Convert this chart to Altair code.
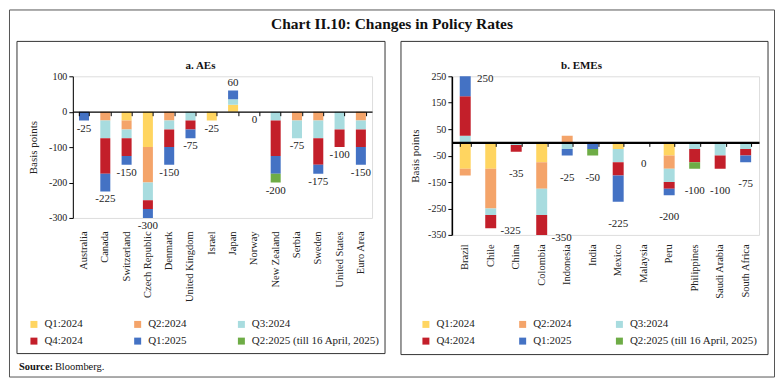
import altair as alt
import pandas as pd

FONT = "Liberation Serif"

# ---------------- data ----------------
quarters = ["Q1:2024", "Q2:2024", "Q3:2024", "Q4:2024", "Q1:2025",
            "Q2:2025 (till 16 April, 2025)"]
quarter_colors = ["#FFD560", "#F4A46A", "#A8DCDF", "#C31F2A", "#4472C4", "#6EAC46"]

ae_countries = ["Australia", "Canada", "Switzerland", "Czech Republic", "Denmark",
                "United Kingdom", "Israel", "Japan", "Norway", "New Zealand",
                "Serbia", "Sweden", "United States", "Euro Area"]
ae_q1_2024 = [0, 0, -25, -100, 0, 0, -25, 20, 0, 0, 0, 0, 0, 0]
ae_q2_2024 = [0, -25, -25, -100, -25, 0, 0, 0, 0, 0, -25, -25, 0, -25]
ae_q3_2024 = [0, -50, -25, -50, -25, -25, 0, 15, 0, -25, -50, -50, -50, -25]
ae_q4_2024 = [0, -100, -50, -25, -50, -25, 0, 0, 0, -100, 0, -75, -50, -50]
ae_q1_2025 = [-25, -50, -25, -25, -50, -25, 0, 25, 0, -50, 0, -25, 0, -50]
ae_q2_2025 = [0, 0, 0, 0, 0, 0, 0, 0, 0, -25, 0, 0, 0, 0]

eme_countries = ["Brazil", "Chile", "China", "Colombia", "Indonesia", "India",
                 "Mexico", "Malaysia", "Peru", "Philippines", "Saudi Arabia",
                 "South Africa"]
eme_q1_2024 = [-100, -100, 0, -75, 0, 0, -25, 0, -50, 0, 0, 0]
eme_q2_2024 = [-25, -150, 0, -100, 25, 0, 0, 0, -50, 0, 0, 0]
eme_q3_2024 = [25, -25, -10, -100, -25, 0, -50, 0, -50, -25, -50, -25]
eme_q4_2024 = [150, -50, -25, -75, 0, 0, -50, 0, -25, -50, -50, -25]
eme_q1_2025 = [200, 0, 0, 0, -25, -25, -100, 0, -25, 0, 0, -25]
eme_q2_2025 = [0, 0, 0, 0, 0, -25, 0, 0, 0, -25, 0, 0]

ae_series = [ae_q1_2024, ae_q2_2024, ae_q3_2024, ae_q4_2024, ae_q1_2025, ae_q2_2025]
eme_series = [eme_q1_2024, eme_q2_2024, eme_q3_2024, eme_q4_2024, eme_q1_2025, eme_q2_2025]

ae_ticks = [-300, -200, -100, 0, 100]
eme_ticks = [-350, -250, -150, -50, 50, 150, 250]

# labels written beside the bar rather than below it (style choice)
eme_side_labels = ["Brazil", "Chile", "Colombia"]


def long_table(countries, series):
    rows = []
    for qi, (q, vals) in enumerate(zip(quarters, series)):
        for c, v in zip(countries, vals):
            if v != 0:
                rows.append({"country": c, "quarter": q, "qi": qi, "value": v})
    return pd.DataFrame(rows)


def label_table(countries, series, side=()):
    rows = []
    for i, c in enumerate(countries):
        vals = [s[i] for s in series]
        net = sum(vals)
        neg = sum(v for v in vals if v < 0)
        pos = sum(v for v in vals if v > 0)
        if c in side:
            place, y = "side", net
        elif net > 0:
            place, y = "above", pos
        else:
            place, y = "below", neg
        rows.append({"country": c, "txt": str(net), "ly": y, "place": place})
    return pd.DataFrame(rows)


dummy = pd.DataFrame({"d": [0]})


def box(x1, x2, y1, y2, color, sw):
    return alt.Chart(dummy).mark_rect(fillOpacity=0, stroke=color, strokeWidth=sw).encode(
        x=alt.value(x1), x2=alt.value(x2), y=alt.value(y1), y2=alt.value(y2))


def note(text, x, y, size, weight="normal", align="center"):
    return alt.Chart(dummy).mark_text(
        text=text, font=FONT, fontSize=size, fontWeight=weight, align=align,
        baseline="middle", color="#111").encode(x=alt.value(x), y=alt.value(y))


def panel(countries, series, *, width, height, domain, yticks, pad_inner, pad_outer,
          zero_width, ydomain_width, label_pad, ytitle_pad, below_dy, legend_x,
          legend_col_pad, side=(), extras=()):
    bars_df = long_table(countries, series)
    lab_df = label_table(countries, series, side)
    zero_offset = -height * (0 - domain[0]) / (domain[1] - domain[0])

    x_label_axis = alt.Axis(orient="bottom", title=None, labelAngle=-90, labelFont=FONT,
                            labelFontSize=10.5, labelColor="#222", labelPadding=label_pad,
                            domain=False, ticks=False, tickSize=0, grid=False, labelLimit=200)
    y_axis = alt.Axis(values=yticks, labelExpr="'' + datum.value", title="Basis points",
                      titleFont=FONT, titleFontSize=11, titleFontWeight="normal",
                      titleColor="#222", titlePadding=ytitle_pad, labelFont=FONT,
                      labelFontSize=10, labelColor="#222", labelPadding=2, tickSize=4,
                      tickColor="black", domainColor="black", domainWidth=ydomain_width,
                      grid=False)
    legend = alt.Legend(title=None, orient="none", legendX=legend_x, legendY=243,
                        direction="horizontal", columns=3, symbolType="square",
                        symbolSize=49, symbolStrokeWidth=0, symbolOpacity=1,
                        labelFont=FONT, labelFontSize=11, labelColor="#222",
                        columnPadding=legend_col_pad, rowPadding=5, labelOffset=5,
                        padding=0, labelLimit=300)

    bars = alt.Chart(bars_df).mark_bar(clip=True).encode(
        x=alt.X("country:N", sort=countries,
                scale=alt.Scale(paddingInner=pad_inner, paddingOuter=pad_outer),
                axis=x_label_axis),
        y=alt.Y("value:Q", stack="zero",
                scale=alt.Scale(domain=domain, nice=False, zero=False), axis=y_axis),
        color=alt.Color("quarter:N", scale=alt.Scale(domain=quarters, range=quarter_colors),
                        legend=legend),
        order=alt.Order("qi:Q", sort="ascending"),
    )

    zero_line = alt.Chart(lab_df).mark_point(opacity=0).encode(
        x=alt.X("country:N", sort=countries,
                axis=alt.Axis(orient="bottom", offset=zero_offset, labels=False, title=None,
                              domain=True, domainColor="black", domainWidth=zero_width,
                              ticks=True, tickBand="extent", tickSize=4, tickColor="black",
                              tickWidth=1, grid=False, zindex=1)))

    layers = [bars, zero_line]
    specs = [("below", dict(dy=below_dy)), ("above", dict(dy=-7)),
             ("side", dict(dx=20, dy=3))]
    for place, kw in specs:
        sub = lab_df[lab_df["place"] == place]
        if len(sub):
            layers.append(alt.Chart(sub).mark_text(
                font=FONT, fontSize=11, color="#222", baseline="middle", **kw).encode(
                x=alt.X("country:N", sort=countries, axis=None),
                y=alt.Y("ly:Q", axis=None),
                text="txt:N"))
    layers.extend(extras)
    return alt.layer(*layers).resolve_axis(x="independent", y="independent").properties(
        width=width, height=height)


left_extras = [
    box(-63.5, 703.5, -66.5, 301.5, "#555", 1),
    box(-56, 313, -35, 278, "#333", 1),
    note("Chart II.10: Changes in Policy Rates", 320, -52, 15.5, "bold"),
    note("a. AEs", 128, -10, 11, "bold"),
    note("Source:", -54, 291, 10.5, "bold", "left"),
    note("Bloomberg.", -18, 291, 10.5, "normal", "left"),
]
right_extras = [
    box(-51, 317, -35, 279, "#333", 1),
    note("b. EMEs", 130, -10, 11, "bold"),
]

left = panel(ae_countries, ae_series, width=300, height=142, domain=[-300, 100],
             yticks=ae_ticks, pad_inner=0.53, pad_outer=0.29, zero_width=1.2,
             ydomain_width=1, label_pad=13, ytitle_pad=10, below_dy=8, legend_x=-44.5,
             legend_col_pad=49, extras=left_extras)
right = panel(eme_countries, eme_series, width=308, height=159, domain=[-350, 250],
              yticks=eme_ticks, pad_inner=0.57, pad_outer=0.31, zero_width=2.2,
              ydomain_width=1.6, label_pad=9, ytitle_pad=7, below_dy=22, legend_x=-31.5,
              legend_col_pad=42, side=eme_side_labels, extras=right_extras)

chart = alt.hconcat(left, right, spacing=80, bounds="flush").resolve_scale(
    color="independent").properties(padding=0).configure_view(stroke=None).configure(
    font=FONT)

chart.save("out.html", embed_options={"renderer": "svg", "actions": False})
